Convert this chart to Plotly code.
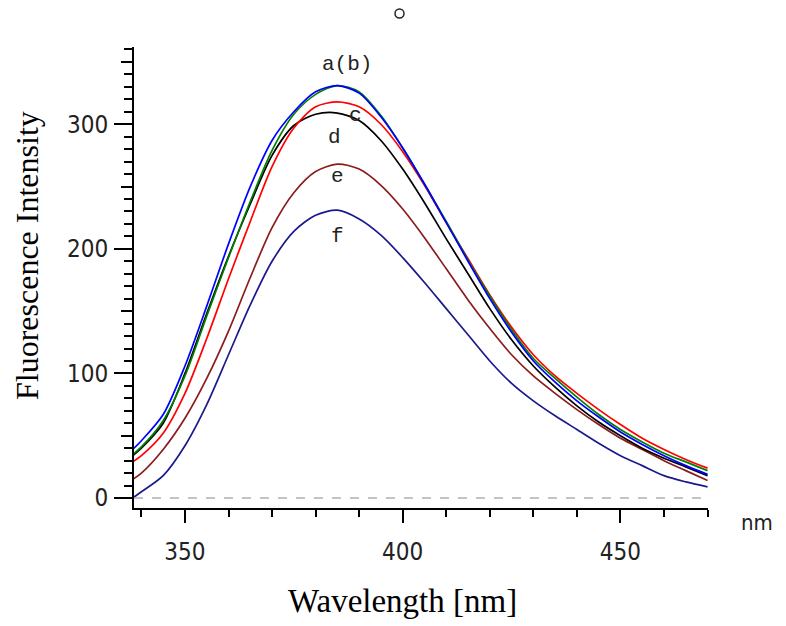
import plotly.graph_objects as go

# Wavelength grid (nm)
wavelength = [338, 340, 345, 350, 355, 360, 365, 370, 375, 380, 385, 390, 395, 400,
              405, 410, 415, 420, 425, 430, 435, 440, 445, 450, 455, 460, 465, 470]

# Fluorescence intensity series
curve_a = [35, 41, 62, 98, 146, 193, 238, 279, 308, 324, 331, 326, 307, 281,
           252, 222, 191, 162, 135, 112, 96, 81, 67, 55, 45, 36, 29, 22]
curve_b = [39, 46, 67, 106, 154, 204, 250, 287, 310, 326, 331, 325, 306, 281,
           252, 221, 190, 160, 133, 110, 93, 78, 65, 53, 43, 34, 26, 19]
curve_c = [29, 34, 52, 84, 128, 176, 222, 266, 297, 314, 318, 314, 300, 278,
           251, 221, 192, 163, 137, 115, 98, 84, 71, 59, 48, 39, 31, 24]
curve_d = [34, 40, 60, 100, 148, 194, 236, 275, 299, 308, 309, 303, 287, 264,
           237, 208, 180, 152, 127, 106, 89, 74, 61, 50, 40, 32, 25, 18]
curve_e = [15, 20, 39, 64, 96, 134, 177, 217, 245, 262, 268, 264, 251, 232,
           209, 184, 159, 136, 115, 98, 84, 71, 59, 48, 39, 30, 22, 14]
curve_f = [0, 5, 18, 42, 75, 115, 155, 190, 214, 227, 231, 224, 211, 193,
           173, 152, 131, 110, 92, 78, 66, 55, 44, 34, 26, 18, 13, 9]

series_names = ["f", "e", "d", "c", "a", "b"]
series_values = [curve_f, curve_e, curve_d, curve_c, curve_a, curve_b]
series_colors = ["#1a1a8c", "#8b1c1c", "#000000", "#ff0000", "#008000", "#0000ff"]

# Curve labels: text, wavelength, intensity
label_texts = ["a(b)", "c", "d", "e", "f"]
label_x = [387.2, 389.1, 384.3, 385.0, 385.0]
label_y = [348, 307, 289, 258, 210]

x_range = [338.3, 470.1]
y_range = [-8, 362]

fig = go.Figure()
for name, vals, col in zip(series_names, series_values, series_colors):
    fig.add_trace(go.Scatter(x=wavelength, y=vals, mode="lines", name=name,
                             line=dict(color=col, width=1.7, shape="spline", smoothing=0.8),
                             showlegend=False, hoverinfo="skip"))

# invisible trace on the mid-tick axis so it renders
fig.add_trace(go.Scatter(x=wavelength, y=curve_f, mode="lines", yaxis="y2",
                         line=dict(color="rgba(0,0,0,0)", width=0),
                         showlegend=False, hoverinfo="skip"))

tick_font = dict(family="Liberation Sans Narrow, DejaVu Sans Condensed, Liberation Sans", size=24, color="#222")

# page body has an 8px margin: plot area placed so that it lands at x 134..708, y 47..508
L, T, PW, PH = 126, 39, 574, 461
fig.update_layout(
    width=786, height=626,
    margin=dict(l=L, r=786 - L - PW, t=T, b=626 - T - PH),
    paper_bgcolor="white", plot_bgcolor="white",
    xaxis=dict(range=x_range, showgrid=False, zeroline=False,
               showline=True, linecolor="black", linewidth=2,
               ticks="outside", tick0=350, dtick=50, ticklen=13, tickwidth=2, tickcolor="black",
               minor=dict(ticks="outside", dtick=10, tick0=340, ticklen=7, tickwidth=2, tickcolor="black"),
               tickfont=tick_font, ticklabelstandoff=8),
    yaxis=dict(range=y_range, showgrid=False, zeroline=False,
               showline=True, linecolor="black", linewidth=2,
               ticks="outside", tick0=0, dtick=100, ticklen=18, tickwidth=2, tickcolor="black",
               minor=dict(ticks="outside", dtick=10, tick0=0, ticklen=8, tickwidth=2, tickcolor="black"),
               tickfont=tick_font, ticklabelstandoff=1),
    yaxis2=dict(range=y_range, overlaying="y", side="left", showgrid=False, zeroline=False,
                showline=False, showticklabels=False,
                ticks="outside", tick0=0, dtick=50, ticklen=12, tickwidth=2, tickcolor="black"),
)

# dashed baseline at zero intensity
fig.add_shape(type="line", xref="x domain", yref="y", x0=0, x1=1, y0=0, y1=0,
              line=dict(color="#b0b0b0", width=1.5, dash="dash"))

# curve labels
for t, lx, ly in zip(label_texts, label_x, label_y):
    fig.add_annotation(x=lx, y=ly, text=t, showarrow=False, xanchor="center", yanchor="middle",
                       font=dict(family="Liberation Mono, DejaVu Sans Mono", size=21, color="#222"))

# positions below are in reference pixels, converted to plot-area fractions
def px(xp):
    return (xp - 134) / PW

def py(yp):
    return (508 - yp) / PH

fig.add_annotation(xref="paper", yref="paper", x=px(402), y=py(601),
                   text="Wavelength [nm]", showarrow=False, xanchor="center", yanchor="middle",
                   font=dict(family="Liberation Serif, Times New Roman", size=33, color="black"))
fig.add_annotation(xref="paper", yref="paper", x=px(27), y=py(256),
                   text="Fluorescence Intensity", showarrow=False, textangle=-90,
                   xanchor="center", yanchor="middle",
                   font=dict(family="Liberation Serif, Times New Roman", size=32, color="black"))
fig.add_annotation(xref="paper", yref="paper", x=px(757), y=py(522),
                   text="nm", showarrow=False, xanchor="center", yanchor="middle",
                   font=dict(family="Liberation Sans Narrow, DejaVu Sans Condensed, Liberation Sans",
                             size=22, color="#222"))

# small ring at the top
fig.add_shape(type="circle", xref="paper", yref="paper",
              x0=px(395), x1=px(404), y0=py(18), y1=py(9),
              line=dict(color="#222", width=1.5))

fig.write_html("out.html")
